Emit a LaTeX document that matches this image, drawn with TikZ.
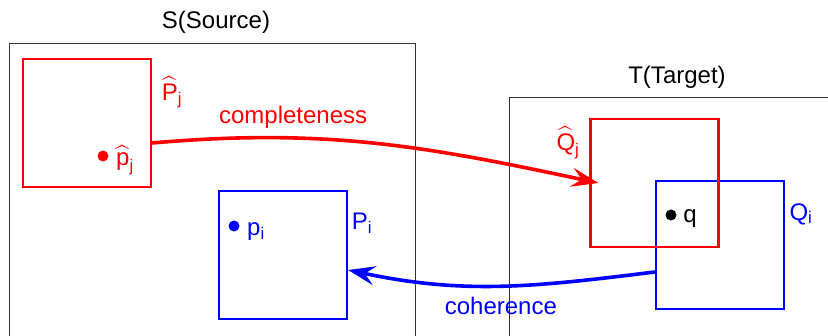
\documentclass[tikz,border=0pt]{standalone}
\usepackage{fontspec}
\usepackage{amsmath}
\setmainfont{Liberation Sans}
\usetikzlibrary{arrows.meta}

\begin{document}
\begin{tikzpicture}[
    x=1pt, y=1pt,
    >={Stealth[length=27pt, width=19pt, inset=10pt]},
    frame/.style={rectangle, draw=black!80, line width=0.9pt, anchor=north west, inner sep=0pt},
    redbox/.style={rectangle, draw=red, line width=2.2pt, minimum size=128pt, inner sep=0pt},
    bluebox/.style={rectangle, draw=blue, line width=2.2pt, minimum size=128pt, inner sep=0pt},
    spot/.style={circle, fill=#1, inner sep=0pt, minimum size=11pt},
    tag/.style={font=\fontsize{24}{28}\selectfont, inner sep=0pt},
    link/.style={->, line width=3.6pt}
]
    \clip (0, 0) rectangle (828, -336);

    % frames
    \node[frame, minimum width=406pt, minimum height=320pt] at (9, -43) (src) {};
    \node[frame, minimum width=340pt, minimum height=260pt] at (509, -97) (tgt) {};
    \node[tag] at (216, -22) (srcname) {S(Source)};
    \node[tag] at (677, -77) (tgtname) {T(Target)};

    % source side
    \node[redbox]  at (87, -123) (Phat) {};
    \node[bluebox] at (283, -255) (Pi) {};
    \node[spot=red]  at (103, -156) (phatdot) {};
    \node[spot=blue] at (234, -226) (pidot) {};
    \node[tag, text=red]  at (172, -92) (Phatname) {$\widehat{\text{P}}_{\text{j}}$};
    \node[tag, text=red]  at (125, -160) (phatname) {$\widehat{\text{p}}_{\text{j}}$};
    \node[tag, text=blue] at (362, -223) (Piname) {P$_{\text{i}}$};
    \node[tag, text=blue] at (256, -232) (piname) {p$_{\text{i}}$};

    % target side
    \node[bluebox] at (720, -245) (Qi) {};
    \node[redbox]  at (654.5, -183) (Qhat) {};
    \node[spot=black] at (671, -215) (qdot) {};
    \node[tag] at (690, -219) (qname) {q};
    \node[tag, text=red]  at (568, -143) (Qhatname) {$\widehat{\text{Q}}_{\text{j}}$};
    \node[tag, text=blue] at (801, -214) (Qiname) {Q$_{\text{i}}$};

    % maps
    \draw[link, red] ([yshift=-20pt]Phat.east) to[out=5, in=168]
        node[pos=0.3, above=8pt, tag, text=red] (compl) {completeness} ([xshift=9pt]Qhat.west);
    \draw[link, blue] ([yshift=-27pt]Qi.west) to[out=187, in=-12]
        node[pos=0.5, below=9pt, tag, text=blue] (coher) {coherence} ([yshift=-15pt]Pi.east);
\end{tikzpicture}
\end{document}
